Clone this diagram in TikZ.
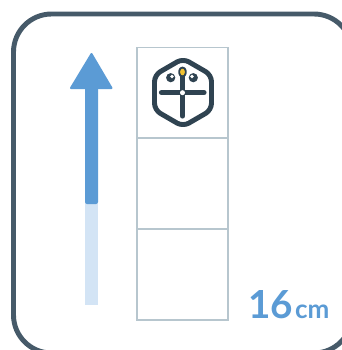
\documentclass[tikz,border=0pt]{standalone}
\usepackage{fontspec}
\setmainfont{Lato}
\definecolor{frameC}{HTML}{465A69}
\definecolor{gridC}{HTML}{B7C6CE}
\definecolor{blueC}{HTML}{5B9BD5}
\definecolor{lightC}{HTML}{D3E4F5}
\definecolor{iconC}{HTML}{2F4351}
\definecolor{yellowC}{HTML}{F2C230}
\tikzset{
  frameline/.style={draw=frameC,line width=3.7pt,rounded corners=28.5pt},
  cellbox/.style={draw=gridC,line width=1.4pt},
  iconline/.style={draw=iconC,line cap=round,line join=round},
  numtext/.style={text=blueC,font=\bfseries,inner sep=0pt,anchor=base west}
}
\begin{document}
\begin{tikzpicture}[x=0.75pt,y=-0.75pt]
\useasboundingbox (0,0) rectangle (342,350);
\clip (0,0) rectangle (342,350);
\fill[white] (0,0) rectangle (342,350);
\draw[frameline] (13.5,14) rectangle (352,353);
% track and arrow
\fill[lightC] (85,203) rectangle (98,305);
\fill[blueC,rounded corners=1.5pt] (85,85) rectangle (98,204);
\fill[blueC,draw=blueC,line width=1.5pt,line join=round] (91.5,54) -- (111.5,88) -- (71,88) -- cycle;
% cells
\draw[cellbox] (137.2,47.5) rectangle (228,138);
\draw[cellbox] (137.2,138) rectangle (228,229);
\draw[cellbox] (137.2,229) rectangle (228,320);
% icon
\draw[iconline,line width=3.7pt,rounded corners=5pt] (183,58.5) -- (211.5,75) -- (211.5,110) -- (183,126.5) -- (154.5,110) -- (154.5,75) -- cycle;
\draw[iconline,line width=3.9pt] (161.5,92.7) -- (204,92.7);
\draw[iconline,line width=3.9pt] (182.5,75) -- (182.5,116);
\fill[white] (182.5,92.7) circle (2.5);
\draw[iconline,fill=yellowC,line width=1.4pt,rounded corners=2.5pt] (179.3,67.5) rectangle (185.7,76.5);
\fill[iconC] (170.7,77.7) circle (4.6);
\fill[iconC] (193.3,77.7) circle (4.6);
\fill[white] (172,76.5) circle (1.9);
\fill[white] (192,76.5) circle (1.9);
% text
\node[numtext] (num) at (248,318) {\fontsize{29}{29}\selectfont 16\hspace{1.5pt}\fontsize{19.5}{19.5}\selectfont cm};
\end{tikzpicture}
\end{document}
